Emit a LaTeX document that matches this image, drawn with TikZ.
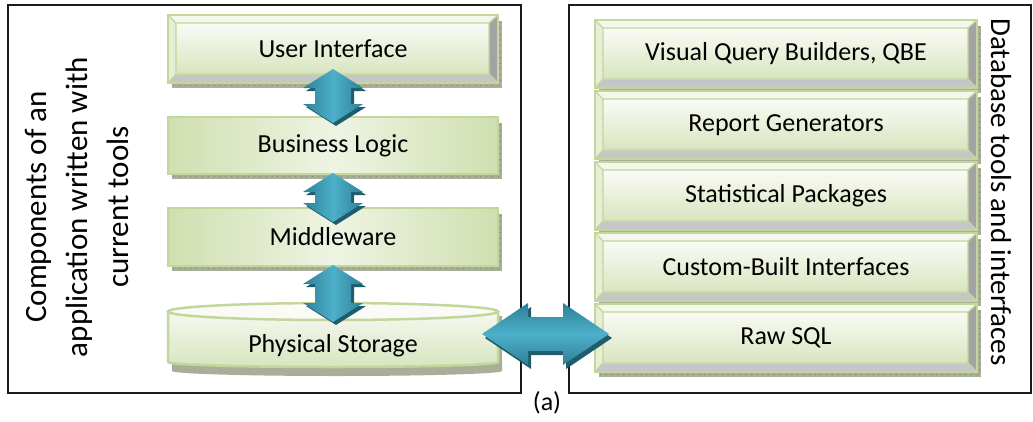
\documentclass[tikz,border=0pt]{standalone}
\usepackage{fontspec}
\setmainfont{Carlito}
\usetikzlibrary{calc}

\definecolor{framecol}{HTML}{1A1A1A}
\definecolor{boxline}{HTML}{C3D69B}
\definecolor{facetop}{HTML}{FAFBF6}
\definecolor{facebot}{HTML}{D8E5BF}
\definecolor{flatlight}{HTML}{EEF4E3}
\definecolor{flatgreen}{HTML}{D0DFB0}
\definecolor{bevtop}{HTML}{F3F7EC}
\definecolor{bevleft}{HTML}{E6EED6}
\definecolor{bevright}{HTML}{A3A3A3}
\definecolor{bevbot}{HTML}{C6C6C6}
\definecolor{shadowfill}{HTML}{A9AE99}
\definecolor{shadowtick}{HTML}{7E856C}
\definecolor{arrowlight}{HTML}{4DB0CA}
\definecolor{arrowedge}{HTML}{2E7F97}
\definecolor{arrowside}{HTML}{1F5C6E}

\tikzset{
  boxlabel/.style={font=\fontsize{26}{31}\selectfont, text=black, inner sep=0pt, outer sep=0pt, draw=none},
  sidelabel/.style={text=black, inner sep=0pt, outer sep=0pt, align=center},
  framebox/.style={draw=framecol, line width=2pt},
  greenedge/.style={draw=boxline, line width=2.5pt},
  shadowstrip/.style={fill=shadowfill},
  shadowticks/.style={draw=shadowtick, line width=0.8pt, dash pattern=on 0.8pt off 5pt},
}

% bevelled box: name, centre x, centre y, half width, half height, label
\newcommand\bevelbox[6]{%
  \begin{scope}[shift={(#2,#3)}]
    \fill[shadowstrip] (-#4+4,-#5+6) rectangle (#4+4,#5+5);
    \draw[shadowticks] (-#4+5,#5+2.8) -- (#4+4,#5+2.8) (#4+2.5,-#5+7) -- (#4+2.5,#5);
    \fill[bevtop] (-#4,-#5) -- (#4,-#5) -- (#4-9,-#5+8) -- (-#4+8,-#5+8) -- cycle;
    \fill[bevleft] (-#4,-#5) -- (-#4+8,-#5+8) -- (-#4+8,#5-9) -- (-#4,#5) -- cycle;
    \fill[bevright] (#4,-#5) -- (#4,#5) -- (#4-9,#5-9) -- (#4-9,-#5+8) -- cycle;
    \fill[bevbot] (-#4,#5) -- (-#4+8,#5-9) -- (#4-9,#5-9) -- (#4,#5) -- cycle;
    \shade[top color=facetop, bottom color=facebot] (-#4+8,-#5+8) rectangle (#4-9,#5-9);
    \draw[boxline, line width=1.3pt] (-#4+8,-#5+8) rectangle (#4-9,#5-9)
      (-#4,-#5) -- (-#4+8,-#5+8) (#4,-#5) -- (#4-9,-#5+8)
      (#4,#5) -- (#4-9,#5-9) (-#4,#5) -- (-#4+8,#5-9);
    \draw[greenedge] (-#4,-#5) rectangle (#4,#5);
  \end{scope}
  \node[boxlabel, minimum width=2*#4pt, minimum height=2*#5pt] (#1) at (#2,#3) {#6};
}

% flat box with soft gradient: name, centre x, centre y, half width, half height, label
\newcommand\flatbox[6]{%
  \begin{scope}[shift={(#2,#3)}]
    \fill[shadowstrip] (-#4+4,-#5+6) rectangle (#4+4,#5+5);
    \draw[shadowticks] (-#4+5,#5+2.8) -- (#4+4,#5+2.8) (#4+2.5,-#5+7) -- (#4+2.5,#5);
    \shade[left color=flatgreen, right color=flatgreen, middle color=flatlight] (-#4,-#5) rectangle (#4,#5);
    \draw[greenedge] (-#4,-#5) rectangle (#4,#5);
  \end{scope}
  \node[boxlabel, minimum width=2*#4pt, minimum height=2*#5pt] (#1) at (#2,#3) {#6};
}

% vertical double arrow between two tips (upper tip, lower tip)
\newcommand\vlink[2]{%
  \fill[arrowside] let \p1=(#1), \p2=(#2) in
    (\x1+3pt,\y1-3pt) -- (\x1+33pt,\y1-22pt) -- (\x1+21pt,\y1-22pt) -- (\x1+21pt,\y2+16pt)
    -- (\x1+33pt,\y2+16pt) -- (\x1+3pt,\y2-3pt) -- (\x1-27pt,\y2+16pt) -- (\x1-15pt,\y2+16pt)
    -- (\x1-15pt,\y1-22pt) -- (\x1-27pt,\y1-22pt) -- cycle;
  \shade[left color=arrowedge, right color=arrowedge, middle color=arrowlight] let \p1=(#1), \p2=(#2) in
    (\x1,\y1) -- (\x1+30pt,\y1-19pt) -- (\x1+18pt,\y1-19pt) -- (\x1+18pt,\y2+19pt)
    -- (\x1+30pt,\y2+19pt) -- (\x1,\y2) -- (\x1-30pt,\y2+19pt) -- (\x1-18pt,\y2+19pt)
    -- (\x1-18pt,\y1-19pt) -- (\x1-30pt,\y1-19pt) -- cycle;
}

% horizontal double arrow between two tips (left tip, right tip)
\newcommand\hlink[2]{%
  \fill[arrowside] let \p1=(#1), \p2=(#2) in
    (\x1+3pt,\y1-4pt) -- (\x1+49pt,\y1+27pt) -- (\x1+49pt,\y1+13pt) -- (\x2-43pt,\y1+13pt)
    -- (\x2-43pt,\y1+27pt) -- (\x2+3pt,\y1-4pt) -- (\x2-43pt,\y1-35pt) -- (\x2-43pt,\y1-21pt)
    -- (\x1+49pt,\y1-21pt) -- (\x1+49pt,\y1-35pt) -- cycle;
  \shade[top color=arrowedge, bottom color=arrowedge, middle color=arrowlight] let \p1=(#1), \p2=(#2) in
    (\x1,\y1) -- (\x1+46pt,\y1+31pt) -- (\x1+46pt,\y1+17pt) -- (\x2-46pt,\y1+17pt)
    -- (\x2-46pt,\y1+31pt) -- (\x2,\y1) -- (\x2-46pt,\y1-31pt) -- (\x2-46pt,\y1-17pt)
    -- (\x1+46pt,\y1-17pt) -- (\x1+46pt,\y1-31pt) -- cycle;
}

\begin{document}
\begin{tikzpicture}[x=1pt, y=-1pt]
  \useasboundingbox (0,0) rectangle (1033,421);

  % outer frames
  \draw[framebox] (8,5) rectangle (521,393);
  \draw[framebox] (569,5) rectangle (1031,393);

  % side titles
  \node[sidelabel, rotate=90, font=\fontsize{31}{41}\selectfont] (apptitle) at (77,207)
    {Components of an\\application written with\\current tools};
  \node[sidelabel, rotate=-90, font=\fontsize{29}{35}\selectfont] (tooltitle) at (1001,192)
    {Database tools and interfaces};

  % application layers
  \bevelbox{ui}{333}{49}{165}{34}{User Interface}
  \flatbox{bl}{333}{145.5}{165}{28.5}{Business Logic}
  \flatbox{mw}{333}{237}{165}{29}{Middleware}

  % storage cylinder
  \begin{scope}[shift={(333,0)}]
    \fill[shadowstrip] (-161,316) -- (-161,371) arc[start angle=180, end angle=360, x radius=165pt, y radius=5pt]
      -- (169,316) -- cycle;
    \shade[top color=facetop, bottom color=facebot]
      (-165,311.5) -- (-165,362) arc[start angle=180, end angle=360, x radius=165pt, y radius=5pt]
      -- (165,311.5) arc[start angle=0, end angle=180, x radius=165pt, y radius=8.5pt] -- cycle;
    \draw[greenedge]
      (-165,311.5) -- (-165,362) arc[start angle=180, end angle=360, x radius=165pt, y radius=5pt]
      -- (165,311.5);
    \draw[greenedge, fill=facetop] (0,311.5) ellipse[x radius=165pt, y radius=8.5pt];
  \end{scope}
  \node[boxlabel, minimum width=330pt, minimum height=42pt] (ps) at (333,346) {Physical Storage};

  % tool layers
  \bevelbox{vq}{786}{54}{191}{34}{Visual Query Builders, QBE}
  \bevelbox{rg}{786}{125}{191}{34}{Report Generators}
  \bevelbox{sp}{786}{196}{191}{34}{Statistical Packages}
  \bevelbox{cb}{786}{267}{191}{34}{Custom-Built Interfaces}
  \bevelbox{rs}{786}{338}{191}{34}{Raw SQL}

  % arrow end points
  \coordinate (a1t) at ($(ui.south)+(0,-14)$);
  \coordinate (a1b) at ($(bl.north)+(0,6)$);
  \coordinate (a2t) at ($(bl.south)+(0,-1)$);
  \coordinate (a2b) at ($(mw.north)+(0,14)$);
  \coordinate (a3t) at ($(mw.south)+(0,-1)$);
  \coordinate (a3b) at ($(ps.north)+(0,-3)$);
  \coordinate (hl) at ($(ps.east)+(-16,-12)$);
  \coordinate (hr) at ($(rs.west)+(14,-4)$);

  \vlink{a1t}{a1b}
  \vlink{a2t}{a2b}
  \vlink{a3t}{a3b}
  \hlink{hl}{hr}

  % caption
  \node[boxlabel] (caption) at (547,403) {(a)};
\end{tikzpicture}
\end{document}
